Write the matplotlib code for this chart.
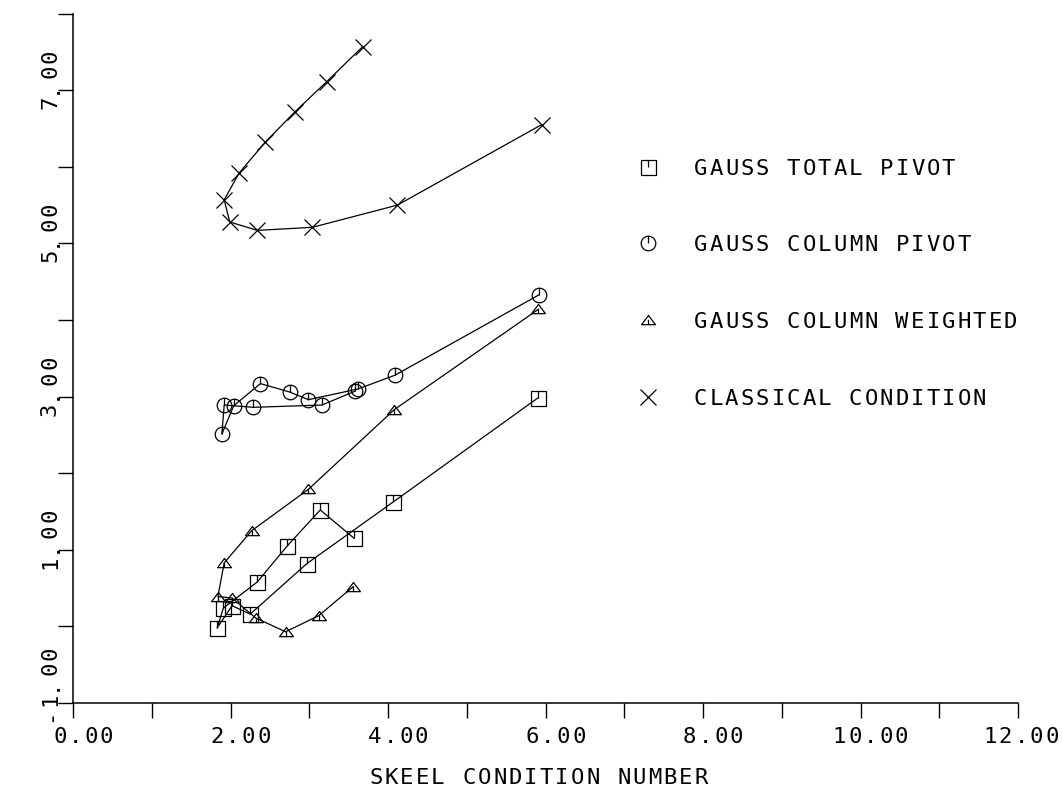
import numpy as np
import matplotlib
matplotlib.use('Agg')
import matplotlib.pyplot as plt
from matplotlib.path import Path
from matplotlib import transforms

plt.rcParams['font.family'] = ['DejaVu Sans Mono']

# Error growth vs. Skeel condition number, one polyline per method
total_pivot_x = [5.90, 4.06, 2.97, 2.25, 2.02, 1.83, 1.91, 2.34, 2.72, 3.14, 3.57]
total_pivot_y = [2.98, 1.62, 0.82, 0.16, 0.27, -0.02, 0.24, 0.58, 1.05, 1.52, 1.15]

column_pivot_x = [5.92, 4.09, 3.62, 2.99, 2.75, 2.38, 2.04, 1.89, 1.92, 2.29, 3.16, 3.58]
column_pivot_y = [4.33, 3.28, 3.10, 2.96, 3.06, 3.17, 2.88, 2.51, 2.89, 2.86, 2.89, 3.07]

weighted_x = [5.91, 4.08, 2.99, 2.27, 1.92, 1.84, 2.02, 2.32, 2.70, 3.12, 3.56]
weighted_y = [4.14, 2.83, 1.79, 1.25, 0.83, 0.39, 0.37, 0.11, -0.07, 0.14, 0.52]

classical_x = [3.68, 3.22, 2.82, 2.44, 2.11, 1.92, 1.99, 2.34, 3.04, 4.12, 5.95]
classical_y = [7.57, 7.11, 6.72, 6.32, 5.92, 5.57, 5.28, 5.17, 5.21, 5.50, 6.55]

labels = ['GAUSS TOTAL PIVOT', 'GAUSS COLUMN PIVOT',
          'GAUSS COLUMN WEIGHTED', 'CLASSICAL CONDITION']

x_tick_labels = [0, 2, 4, 6, 8, 10, 12]
y_tick_labels = [-1, 1, 3, 5, 7]

# legend block sits inside the plot area, one row per data unit
LEGEND_KEY_X = 7.3
LEGEND_ROWS = [6, 5, 4, 3]
PITCH = 15.5  # character cell width of the plotter lettering, in pixels
FONT_SIZE = 16


def with_tick(outline, tick):
    """Plotter-style symbol: outline plus a short stroke marking the point."""
    return Path.make_compound_path(outline, Path(tick, [Path.MOVETO, Path.LINETO]))


SQUARE = with_tick(Path([(-1, -1), (1, -1), (1, 1), (-1, 1), (-1, -1)],
                        [Path.MOVETO, Path.LINETO, Path.LINETO, Path.LINETO, Path.CLOSEPOLY]),
                   [(0, 1), (0, 0)])
CIRCLE = with_tick(Path.unit_circle(), [(0, 1), (0, 0)])
TRIANGLE = with_tick(Path([(-1, -0.6), (1, -0.6), (0, 0.72), (-1, -0.6)],
                          [Path.MOVETO, Path.LINETO, Path.LINETO, Path.CLOSEPOLY]),
                     [(0, 0.1), (0, -0.55)])

series = [
    (total_pivot_x, total_pivot_y, SQUARE, 10.8),
    (column_pivot_x, column_pivot_y, CIRCLE, 10.5),
    (weighted_x, weighted_y, TRIANGLE, 10.0),
    (classical_x, classical_y, 'x', 11.0),
]

fig = plt.figure(figsize=(10.63, 7.87), dpi=100)
ax = fig.add_axes([73 / 1063, 84 / 787, 945 / 1063, 689.4 / 787])


def tracked(x, y, s, transform, dx=0.0, dy=0.0, vertical=False, align='center'):
    """Draw a string one character per fixed-width cell (wide plotter spacing)."""
    n = len(s)
    for i, ch in enumerate(s):
        if align == 'center':
            step = (i - (n - 1) / 2) * PITCH
        else:
            step = (i + 0.5) * PITCH
        ox, oy = (dx, dy + step) if vertical else (dx + step, dy)
        tr = transforms.offset_copy(transform, fig=fig, x=ox, y=oy, units='dots')
        ax.text(x, y, ch, transform=tr, rotation=90 if vertical else 0,
                rotation_mode='anchor', ha='center', va='baseline',
                fontsize=FONT_SIZE, color='black', clip_on=False)


for xs, ys, marker, ms in series:
    ax.plot(xs, ys, color='black', lw=0.9, marker=marker, ms=ms,
            mfc='none', mec='black', mew=0.9, clip_on=False)

# legend keys and text
for (xs, ys, marker, ms), row, label in zip(series, LEGEND_ROWS, labels):
    ax.plot([LEGEND_KEY_X], [row], ls='none', marker=marker, ms=ms,
            mfc='none', mec='black', mew=0.9)
    tracked(LEGEND_KEY_X, row, label, ax.transData, dx=45, dy=-8, align='start')

ax.set_xlim(0, 12)
ax.set_ylim(-1, 8)
ax.set_xticks(np.arange(0, 13))
ax.set_yticks(np.arange(-1, 9))
ax.tick_params(direction='out', length=11, width=1.0, color='black',
               labelbottom=False, labelleft=False)
for side in ['top', 'right']:
    ax.spines[side].set_visible(False)
for side in ['left', 'bottom']:
    ax.spines[side].set_linewidth(1.1)

for v in x_tick_labels:
    # last label is pulled in so it stays on the sheet
    shift = 10 if v < 12 else 3
    tracked(v, -1, f'{v:.2f}', ax.transData, dx=shift, dy=-40)
for v in y_tick_labels:
    tracked(0, v, f'{v:.2f}', ax.transData, dx=-17, dy=-20, vertical=True, align='start')

tracked(0.5, 0, 'SKEEL CONDITION NUMBER', ax.transAxes, dx=-7, dy=-81)

fig.savefig('out.png', dpi=100)
